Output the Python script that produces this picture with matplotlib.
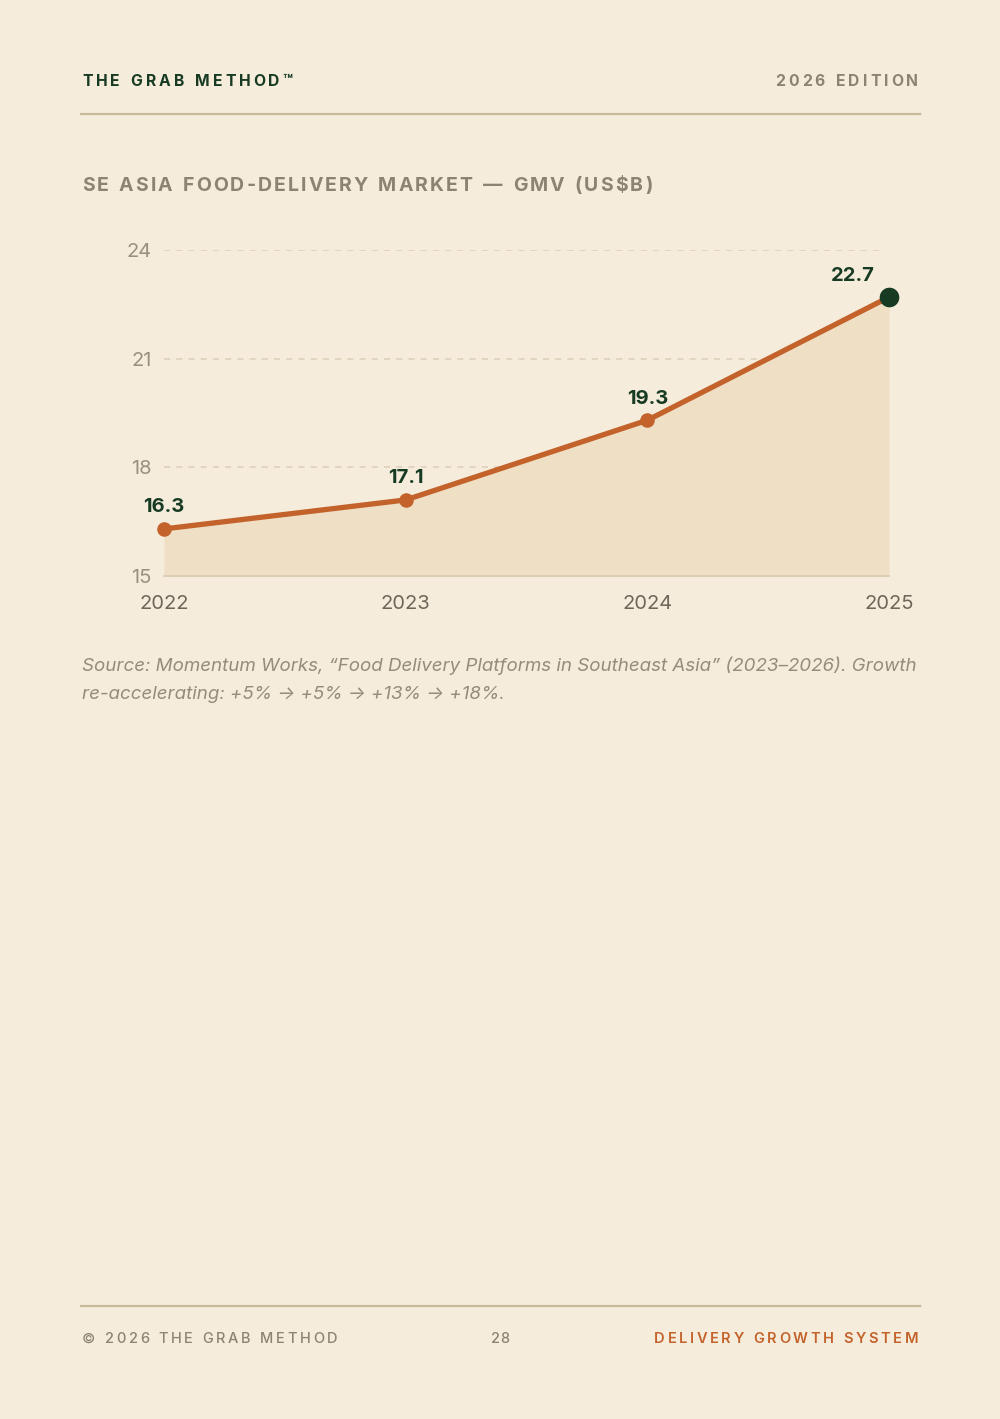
import matplotlib
matplotlib.use("Agg")
import matplotlib.pyplot as plt
from matplotlib.font_manager import FontProperties

years = [2022, 2023, 2024, 2025]
gmv = [16.3, 17.1, 19.3, 22.7]
y_ticks = [15, 18, 21, 24]
x_labels = ["2022", "2023", "2024", "2025"]

BG = "#F5ECDC"
GREEN = "#173A22"
GRAY = "#8C8372"
ORANGE = "#C3622A"
FILL = "#EFDFC4"
RULE = "#C9B999"

W, H = 1000, 1419
fig = plt.figure(figsize=(W / 100, H / 100), dpi=100, facecolor=BG)
renderer = fig.canvas.get_renderer()
FONT = "Inter"


def spaced(x, y, s, size, color, spacing, weight="bold", ha="left"):
    # matplotlib has no letter-spacing, so place glyphs one at a time (pixel coords, top origin)
    prop = FontProperties(family=FONT, size=size, weight=weight)
    widths = [renderer.get_text_width_height_descent(c if c != " " else "n", prop, ismath=False)[0]
              * (0.5 if c == " " else 1.0) for c in s]
    total = sum(widths) + spacing * (len(s) - 1)
    if ha == "right":
        x -= total
    elif ha == "center":
        x -= total / 2
    for c, w in zip(s, widths):
        fig.text(x / W, 1 - y / H, c, fontproperties=prop, color=color, va="center", ha="left")
        x += w + spacing


def hrule(y, x0=81, x1=920):
    fig.add_artist(plt.Line2D([x0 / W, x1 / W], [1 - y / H, 1 - y / H], color=RULE, lw=1.6))


# header
spaced(82, 81, "THE GRAB METHOD™", 11.3, GREEN, 3.0)
spaced(918, 81, "2026 EDITION", 11.3, GRAY, 3.0, ha="right")
hrule(114)

# chart title
spaced(82, 186, "SE ASIA FOOD-DELIVERY MARKET — GMV (US$B)", 14, GRAY, 2.1)

# chart axes
ax = fig.add_axes([164 / W, 1 - 576 / H, 725 / W, (576 - 250) / H])
ax.set_facecolor("none")
ax.fill_between(years, gmv, y_ticks[0], color=FILL, lw=0, zorder=1)
ax.plot(years, gmv, color=ORANGE, lw=3.8, zorder=3, solid_capstyle="round", clip_on=False)
ax.scatter(years[:-1], gmv[:-1], s=110, color=ORANGE, zorder=4, lw=0, clip_on=False)
ax.scatter(years[-1:], gmv[-1:], s=200, color=GREEN, zorder=5, lw=0, clip_on=False)

for i, (x, v) in enumerate(zip(years, gmv)):
    off = -26 if i == len(years) - 1 else 0
    ax.annotate(f"{v}", (x, v), xytext=(off, 9), textcoords="offset points",
                ha="center", va="bottom", fontsize=14.5, fontweight="bold",
                color=GREEN, family=FONT)

ax.set_xlim(years[0], years[-1])
ax.set_ylim(y_ticks[0], y_ticks[-1])
ax.set_yticks(y_ticks)
ax.set_xticks(years)
ax.set_xticklabels(x_labels)
for g in y_ticks[1:]:
    ax.axhline(g, xmax=0.995, color="#DCCFB8", lw=1.1, ls=(0, (4, 4)), zorder=0)
for s in ["top", "right", "left"]:
    ax.spines[s].set_visible(False)
ax.spines["bottom"].set_color("#D8CAB0")
ax.spines["bottom"].set_linewidth(1.2)
ax.tick_params(axis="both", length=0)
ax.tick_params(axis="y", pad=9, labelsize=14.5, labelcolor="#9A907F")
ax.tick_params(axis="x", pad=14, labelsize=14.5, labelcolor="#6F665A")
for lab in ax.get_xticklabels() + ax.get_yticklabels():
    lab.set_family(FONT)

# source note
note_kw = dict(fontsize=13.5, style="italic", color="#968C7C", family=FONT, va="center")
fig.text(82 / W, 1 - 666 / H,
         "Source: Momentum Works, \u201cFood Delivery Platforms in Southeast Asia\u201d (2023\u20132026). Growth",
         **note_kw)
fig.text(82 / W, 1 - 694 / H, "re-accelerating: +5% \u2192 +5% \u2192 +13% \u2192 +18%.", **note_kw)

# footer
hrule(1306)
spaced(82, 1339, "© 2026 THE GRAB METHOD", 10.5, GRAY, 2.6, weight="medium")
spaced(500, 1339, "28", 10.5, GRAY, 0.8, weight="medium", ha="center")
spaced(918, 1339, "DELIVERY GROWTH SYSTEM", 10.5, ORANGE, 2.6, weight="semibold", ha="right")

fig.savefig("out.png", dpi=100, facecolor=BG)
